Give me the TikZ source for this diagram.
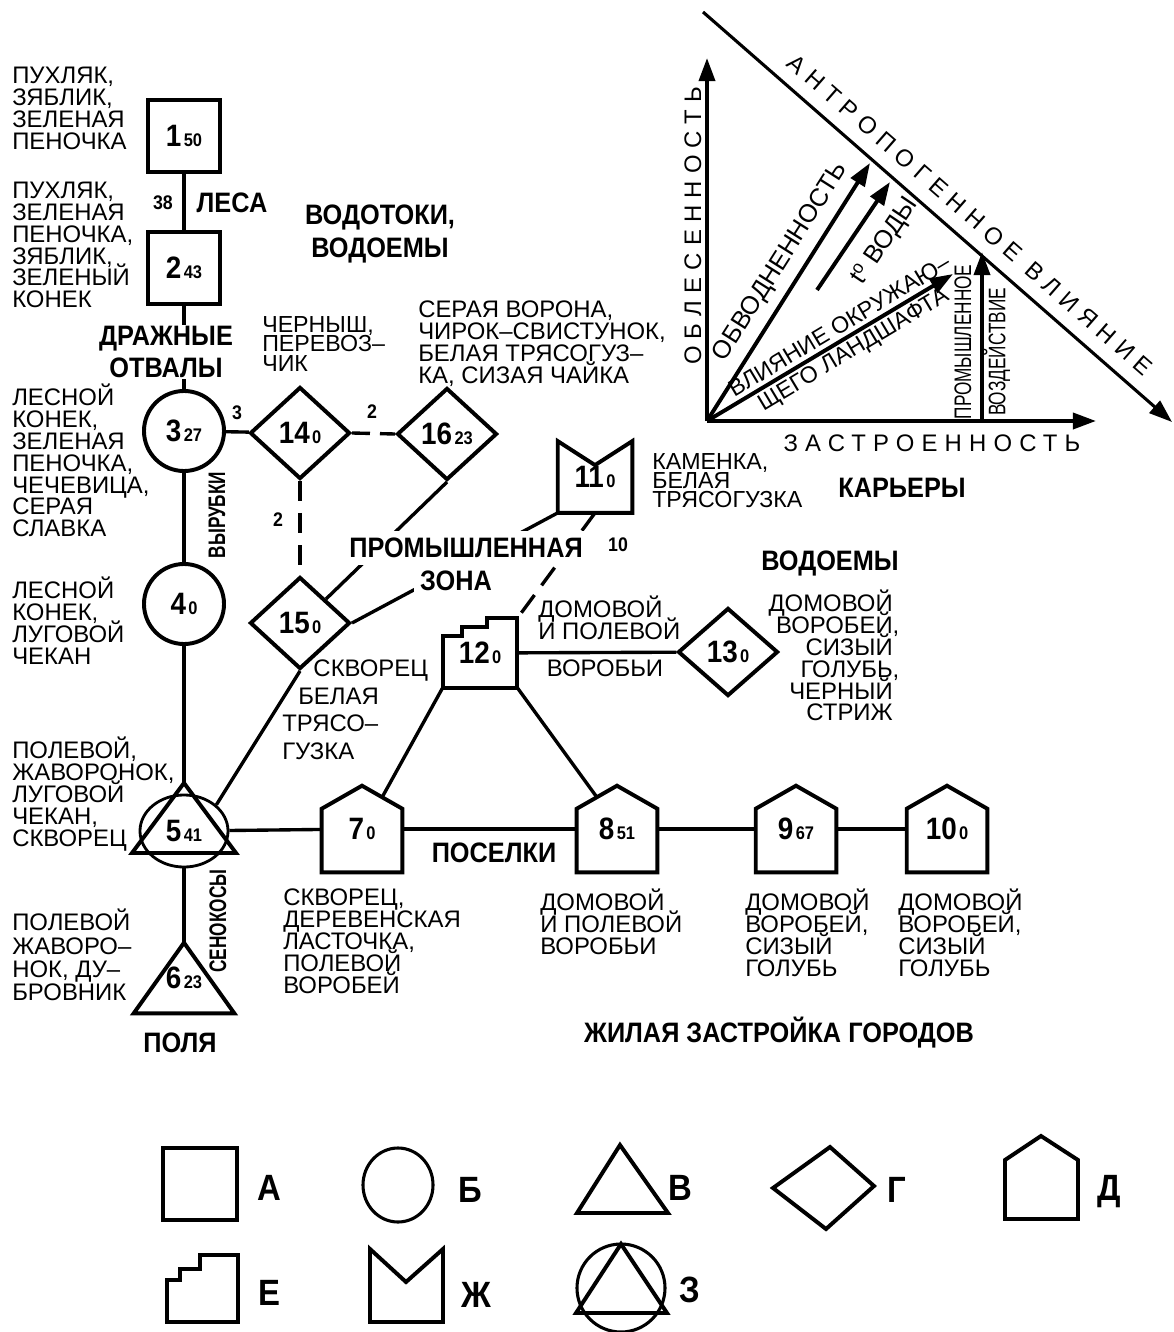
\documentclass[tikz,border=0pt]{standalone}
\usepackage{fontspec}
\setmainfont{Liberation Sans}
\newfontfamily\condbf[FakeStretch=0.9]{Liberation Sans}
\newfontfamily\narrowbf[FakeStretch=0.72]{Liberation Sans}
\newfontfamily\spacedfont[LetterSpace=30]{Liberation Sans}
\usetikzlibrary{shapes.geometric,arrows.meta,calc}

\newcommand{\nm}[2]{{\fontsize{22}{22}\selectfont #1}\,{\fontsize{13}{13}\selectfont #2}}
\newcommand{\tightls}{\lineskiplimit -20pt\relax}

% outlines of the odd shapes, drawn on an invisible box node
\newcommand{\drawhouse}[1]{%
  \draw[outl] (#1.south west) -- ($(#1.north west)+(0,23)$) coordinate (#1-sl) -- (#1.north)
    -- ($(#1.north east)+(0,23)$) coordinate (#1-sr) -- (#1.south east) -- cycle;
  \coordinate (#1-rl) at ($(#1.north)!0.5!(#1-sl)$);
  \coordinate (#1-rr) at ($(#1.north)!0.5!(#1-sr)$);}
\newcommand{\drawstairs}[1]{%
  \draw[outl] (#1.south west) -- ($(#1.north west)+(0,18)$) -- ++(19,0) -- ++(0,-9) -- ++(25,0)
    -- ++(0,-9) -- (#1.north east) -- (#1.south east) -- cycle;}
\newcommand{\drawnotch}[1]{%
  \draw[outl] (#1.south west) -- (#1.north west) -- ($(#1.north)+(0,24)$) -- (#1.north east)
    -- (#1.south east) -- cycle;}
\newcommand{\drawtri}[1]{%
  \draw[outl] (#1.south west) -- (#1.north) -- (#1.south east) -- cycle;}

\tikzset{
    sqbox/.style={rectangle, draw, line width=2.8pt, minimum size=1.8cm, inner sep=0pt, font=\condbf\bfseries},
    rndbox/.style={circle, draw, line width=2.8pt, minimum size=2cm, inner sep=0pt, font=\condbf\bfseries},
    dmdbox/.style={diamond, draw, line width=2.8pt, minimum width=2.5cm, minimum height=2.3cm, inner sep=0pt, font=\condbf\bfseries},
    shapebox/.style={rectangle, inner sep=0pt, font=\condbf\bfseries},
    outl/.style={line width=2.8pt, line join=miter},
    link/.style={line width=2.4pt},
    dlink/.style={line width=2.4pt, dash pattern=on 0.5cm off 0.3cm},
    gaplink/.style={line width=2.4pt, dash pattern=on 0.45cm off 0.25cm},
    birds/.style={align=left, anchor=north west, inner sep=0pt, font=\fontsize{17}{15.5}\selectfont\tightls},
    zone/.style={align=center, inner sep=1pt, font=\condbf\bfseries\fontsize{20}{23}\selectfont\tightls},
    wt/.style={inner sep=0pt, font=\condbf\bfseries\fontsize{14}{14}\selectfont},
    vzone/.style={rotate=90, inner sep=0pt, font=\narrowbf\bfseries\fontsize{17}{17}\selectfont},
    chartarrow/.style={line width=2.8pt, -{Triangle[length=0.58cm,width=0.4cm]}},
    axlbl/.style={inner sep=0pt, font=\spacedfont\fontsize{17}{17}\selectfont},
    chartlbl/.style={inner sep=0pt, align=center, font=\fontsize{16.5}{19}\selectfont\tightls},
    narrowlbl/.style={rotate=90, inner sep=0pt, font=\narrowbf\fontsize{17}{17}\selectfont},
    keylbl/.style={inner sep=0pt, font=\condbf\bfseries\fontsize{26}{26}\selectfont},
}

\begin{document}
\begin{tikzpicture}[x=0.025cm, y=-0.025cm]
    \useasboundingbox (0,0) rectangle (1174,1332);

    % forests, dumps, clearings
    \node[sqbox] (n1) at (184,136) {\nm{1}{50}};
    \node[sqbox] (n2) at (184,268) {\nm{2}{43}};
    \node[rndbox] (n3) at (184,431) {\nm{3}{27}};
    \node[rndbox] (n4) at (184,604) {\nm{4}{0}};

    % fields
    \node[ellipse, draw, line width=2pt, minimum width=2.2cm, minimum height=1.8cm, inner sep=0pt,
        font=\condbf\bfseries] (n5) at (184,831) {\nm{5}{41}};
    \coordinate (n5-apex) at ($(n5)+(0,-48)$);
    \draw[outl] (n5-apex) -- ($(n5)+(52,22)$) -- ($(n5)+(-52,22)$) -- cycle;
    \node[shapebox, minimum width=2.5cm, minimum height=1.75cm] (n6) at (184,978) {\raisebox{-0.22cm}{\nm{6}{23}}};
    \drawtri{n6}

    % water
    \node[dmdbox] (n14) at (300,433) {\nm{14}{0}};
    \node[dmdbox] (n16) at (447,434) {\nm{16}{23}};
    \node[dmdbox] (n15) at (300,623) {\nm{15}{0}};
    \node[dmdbox, minimum height=2.2cm] (n13) at (728,652) {\nm{13}{0}};

    % industry
    \node[shapebox, minimum width=1.85cm, minimum height=1.78cm] (n11) at (595,477) {\raisebox{-0.3cm}{\nm{11}{0}}};
    \drawnotch{n11}
    \node[shapebox, minimum width=1.85cm, minimum height=1.72cm] (n12) at (480,653) {\raisebox{-0.15cm}{\nm{12}{0}}};
    \drawstairs{n12}

    % settlements
    \node[shapebox, minimum width=2cm, minimum height=2.15cm] (n7) at (362,829) {\nm{7}{0}};
    \drawhouse{n7}
    \node[shapebox, minimum width=2cm, minimum height=2.15cm] (n8) at (617,829) {\nm{8}{51}};
    \drawhouse{n8}
    \node[shapebox, minimum width=2cm, minimum height=2.15cm] (n9) at (796,829) {\nm{9}{67}};
    \drawhouse{n9}
    \node[shapebox, minimum width=2cm, minimum height=2.15cm] (n10) at (947,829) {\nm{10}{0}};
    \drawhouse{n10}

    % links
    \draw[link] (n1) -- (n2);
    \draw[link] (n2) -- (n3);
    \draw[link] (n3) -- (n14);
    \draw[link] (n3) -- (n4);
    \draw[link] (n4) -- (n5-apex);
    \draw[link] (n5) -- (n6.north);
    \draw[link] (n5.39) -- (n15.south);
    \draw[link] (n5) -- (n7);
    \draw[link] (n7) -- (n8);
    \draw[link] (n8) -- (n9);
    \draw[link] (n9) -- (n10);
    \draw[link] (n12.south west) -- (n7-rr);
    \draw[link] (n12.south east) -- (n8-rl);
    \draw[link] (n12) -- (n13);
    \draw[link] (n16.south) -- (n15.north east);
    \draw[link] (n15.east) -- (n11.south west);
    \draw[gaplink] (n14.east) -- (n16.west);
    \draw[dlink] (n14.south) -- (n15.north);
    \draw[dlink, dash pattern=on 0.55cm off 0.3cm] (n11.south) -- (n12.north east);

    % weights
    \node[wt] at (163,203) {38};
    \node[wt] at (237,413) {3};
    \node[wt] at (372,412) {2};
    \node[wt] at (278,520) {2};
    \node[wt] at (618,545) {10};

    % habitats
    \node[zone] at (232,203) {ЛЕСА};
    \node[zone] at (380,234) {ВОДОТОКИ,\\ВОДОЕМЫ};
    \node[zone, fill=white] at (166,352) {ДРАЖНЫЕ\\ОТВАЛЫ};
    \node[zone, fill=white, inner ysep=5pt] at (466,548) {ПРОМЫШЛЕННАЯ};
    \node[zone, fill=white, inner xsep=4pt, inner ysep=7pt] at (456,581) {ЗОНА};
    \node[zone] at (902,488) {КАРЬЕРЫ};
    \node[zone] at (830,563) {ВОДОЕМЫ};
    \node[zone] at (494,853) {ПОСЕЛКИ};
    \node[zone] at (180,1043) {ПОЛЯ};
    \node[zone] at (779,1033) {ЖИЛАЯ ЗАСТРОЙКА ГОРОДОВ};
    \node[vzone] at (217,515) {ВЫРУБКИ};
    \node[vzone] at (218,921) {СЕНОКОСЫ};

    % bird lists
    \node[birds] at (12,67) {ПУХЛЯК,\\ЗЯБЛИК,\\ЗЕЛЕНАЯ\\ПЕНОЧКА};
    \node[birds] at (12,182) {ПУХЛЯК,\\ЗЕЛЕНАЯ\\ПЕНОЧКА,\\ЗЯБЛИК,\\ЗЕЛЕНЫЙ\\КОНЕК};
    \node[birds, font=\fontsize{16.5}{14}\selectfont\tightls] at (262,316) {ЧЕРНЫШ,\\ПЕРЕВОЗ–\\ЧИК};
    \node[birds] at (418,301) {СЕРАЯ ВОРОНА,\\ЧИРОК–СВИСТУНОК,\\БЕЛАЯ ТРЯСОГУЗ–\\КА, СИЗАЯ ЧАЙКА};
    \node[birds] at (12,384) {ЛЕСНОЙ\\КОНЕК,\\ЗЕЛЕНАЯ\\ПЕНОЧКА,\\ЧЕЧЕВИЦА,\\СЕРАЯ\\СЛАВКА};
    \node[birds] at (12,577) {ЛЕСНОЙ\\КОНЕК,\\ЛУГОВОЙ\\ЧЕКАН};
    \node[birds] at (12,737) {ПОЛЕВОЙ,\\ЖАВОРОНОК,\\ЛУГОВОЙ\\ЧЕКАН,\\СКВОРЕЦ};
    \node[birds, font=\fontsize{17}{16.5}\selectfont\tightls] at (12,909) {ПОЛЕВОЙ\\ЖАВОРО–\\НОК, ДУ–\\БРОВНИК};
    \node[birds, font=\fontsize{17}{19.5}\selectfont\tightls] at (282,660) {\hspace*{0.78cm}СКВОРЕЦ\\\hspace*{0.4cm}БЕЛАЯ\\ТРЯСО–\\ГУЗКА};
    \node[birds, font=\fontsize{16.5}{13.5}\selectfont\tightls] at (652,453) {КАМЕНКА,\\БЕЛАЯ\\ТРЯСОГУЗКА};
    \node[birds] at (538,596) {ДОМОВОЙ\\И ПОЛЕВОЙ};
    \node[birds, anchor=center] at (605,668) {ВОРОБЬИ};
    \node[birds, align=right, anchor=north east] at (893,590) {ДОМОВОЙ\\ВОРОБЕЙ\rlap{,}\\СИЗЫЙ\\ГОЛУБЬ\rlap{,}\\ЧЕРНЫЙ\\СТРИЖ};
    \node[birds] at (283,889) {СКВОРЕЦ,\\ДЕРЕВЕНСКАЯ\\ЛАСТОЧКА,\\ПОЛЕВОЙ\\ВОРОБЕЙ};
    \node[birds] at (540,889) {ДОМОВОЙ\\И ПОЛЕВОЙ\\ВОРОБЬИ};
    \node[birds] at (745,889) {ДОМОВОЙ\\ВОРОБЕЙ,\\СИЗЫЙ\\ГОЛУБЬ};
    \node[birds] at (898,889) {ДОМОВОЙ\\ВОРОБЕЙ,\\СИЗЫЙ\\ГОЛУБЬ};

    % chart
    \coordinate (O) at (707,421);
    \coordinate (ytop) at (707,58);
    \coordinate (xend) at (1096,421);
    \coordinate (ainf) at (703,12);
    \coordinate (aend) at (1172,422);
    \coordinate (obv) at (870,163);
    \coordinate (tw0) at (817,290);
    \coordinate (tw1) at (890,182);
    \coordinate (lnd) at (953,274);
    \coordinate (pr0) at (982,421);
    \coordinate (pr1) at (982,252);
    \draw[chartarrow] (O) -- (ytop);
    \draw[chartarrow] (O) -- (xend);
    \draw[chartarrow, line width=2.2pt] (ainf) -- (aend);
    \draw[chartarrow] (O) -- (obv);
    \draw[chartarrow] (tw0) -- (tw1);
    \draw[chartarrow] (O) -- (lnd);
    \draw[chartarrow] (pr0) -- (pr1);
    \node[axlbl, rotate=90] at (693,226) {ОБЛЕСЕННОСТЬ};
    \node[axlbl] at (932,443) {ЗАСТРОЕННОСТЬ};
    \node[axlbl, rotate=-41.1] at (970,215) {АНТРОПОГЕННОЕ ВЛИЯНИЕ};
    \node[chartlbl, font=\fontsize{18}{18}\selectfont, rotate=57.6] at (781,262) {ОБВОДНЕННОСТЬ};
    \node[chartlbl, font=\fontsize{18}{18}\selectfont, rotate=56] at (885,241) {t\textsuperscript{o} ВОДЫ};
    \node[chartlbl, rotate=30.9] at (847,339) {ВЛИЯНИЕ ОКРУЖАЮ–\\ЩЕГО ЛАНДШАФТА};
    \node[narrowlbl] at (963,342) {ПРОМЫШЛЕННОЕ};
    \node[narrowlbl] at (997,352) {ВОЗДЕЙСТВИЕ};

    % key
    \draw[outl] (163,1148) rectangle (237,1220);
    \node[keylbl] at (269,1188) {А};
    \draw[outl, line width=2.2pt] (398,1185) ellipse [x radius=35, y radius=37];
    \node[keylbl] at (470,1190) {Б};
    \draw[outl] (577,1213) -- (620,1145) -- (668,1213) -- cycle;
    \node[keylbl] at (680,1188) {В};
    \draw[outl] (773,1188) -- (830,1147) -- (874,1186) -- (826,1229) -- cycle;
    \node[keylbl] at (897,1190) {Г};
    \draw[outl] (1005,1219) -- (1005,1160) -- (1041,1136) -- (1078,1160) -- (1078,1219) -- cycle;
    \node[keylbl] at (1109,1192) {Д};
    \draw[outl] (167,1322) -- (167,1280) -- (180,1280) -- (180,1269) -- (200,1269) -- (200,1255)
        -- (238,1255) -- (238,1322) -- cycle;
    \node[keylbl] at (269,1293) {Е};
    \draw[outl] (370,1322) -- (370,1249) -- (406,1282) -- (443,1249) -- (443,1322) -- cycle;
    \node[keylbl] at (476,1295) {Ж};
    \draw[outl, line width=2.2pt] (621,1288) circle [radius=44];
    \draw[outl] (621,1244) -- (667,1313) -- (576,1313) -- cycle;
    \node[keylbl] at (690,1290) {З};
\end{tikzpicture}
\end{document}
